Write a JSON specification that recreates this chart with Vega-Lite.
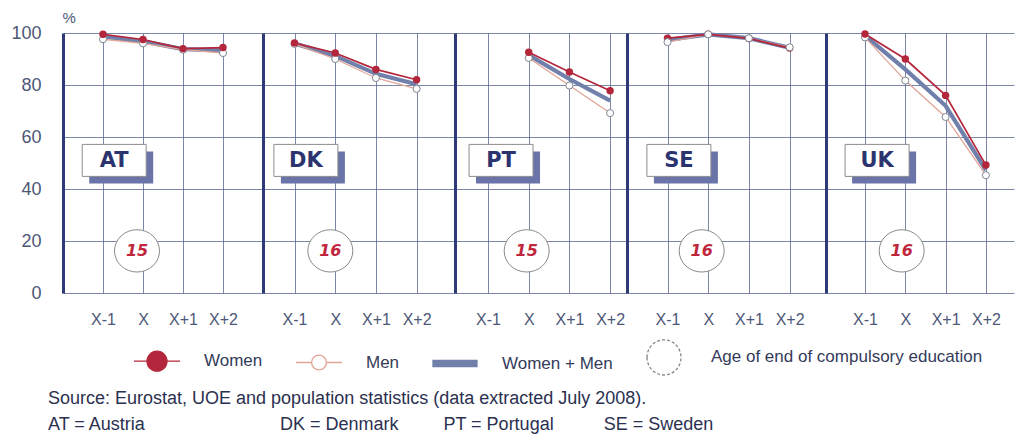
{
  "$schema": "https://vega.github.io/schema/vega-lite/v6.json",
  "background": "white",
  "padding": {"left": 10, "top": 10, "right": 4, "bottom": 4},
  "spacing": 0,
  "title": {
    "text": "Source: Eurostat, UOE and population statistics (data extracted July 2008).",
    "subtitle": "AT = Austria\u00a0\u00a0\u00a0\u00a0\u00a0\u00a0\u00a0\u00a0\u00a0\u00a0\u00a0\u00a0\u00a0\u00a0\u00a0\u00a0\u00a0\u00a0\u00a0\u00a0\u00a0\u00a0\u00a0\u00a0\u00a0\u00a0\u00a0DK = Denmark\u00a0\u00a0\u00a0\u00a0\u00a0\u00a0\u00a0\u00a0\u00a0PT = Portugal\u00a0\u00a0\u00a0\u00a0\u00a0\u00a0\u00a0\u00a0\u00a0\u00a0SE = Sweden",
    "orient": "bottom",
    "anchor": "start",
    "frame": "bounds",
    "dx": 37,
    "offset": 12,
    "font": "Liberation Sans",
    "fontSize": 18,
    "fontWeight": "normal",
    "color": "#2b3050",
    "subtitleFont": "Liberation Sans",
    "subtitleFontSize": 18,
    "subtitleColor": "#2b3050",
    "subtitlePadding": 8
  },
  "datasets": {
    "rates": [
      {"country": "AT", "series": "Women + Men", "t": -1, "value": 98.6},
      {"country": "AT", "series": "Women + Men", "t": 0, "value": 96.8},
      {"country": "AT", "series": "Women + Men", "t": 1, "value": 93.8},
      {"country": "AT", "series": "Women + Men", "t": 2, "value": 93.3},
      {"country": "AT", "series": "Men", "t": -1, "value": 97.6},
      {"country": "AT", "series": "Men", "t": 0, "value": 96.0},
      {"country": "AT", "series": "Men", "t": 1, "value": 93.6},
      {"country": "AT", "series": "Men", "t": 2, "value": 92.3},
      {"country": "AT", "series": "Women", "t": -1, "value": 99.5},
      {"country": "AT", "series": "Women", "t": 0, "value": 97.5},
      {"country": "AT", "series": "Women", "t": 1, "value": 94.0},
      {"country": "AT", "series": "Women", "t": 2, "value": 94.4},
      {"country": "DK", "series": "Women + Men", "t": -1, "value": 96.0},
      {"country": "DK", "series": "Women + Men", "t": 0, "value": 91.2},
      {"country": "DK", "series": "Women + Men", "t": 1, "value": 84.3},
      {"country": "DK", "series": "Women + Men", "t": 2, "value": 80.3},
      {"country": "DK", "series": "Men", "t": -1, "value": 95.8},
      {"country": "DK", "series": "Men", "t": 0, "value": 90.0},
      {"country": "DK", "series": "Men", "t": 1, "value": 82.7},
      {"country": "DK", "series": "Men", "t": 2, "value": 78.5},
      {"country": "DK", "series": "Women", "t": -1, "value": 96.2},
      {"country": "DK", "series": "Women", "t": 0, "value": 92.3},
      {"country": "DK", "series": "Women", "t": 1, "value": 86.0},
      {"country": "DK", "series": "Women", "t": 2, "value": 82.0},
      {"country": "PT", "series": "Women + Men", "t": 0, "value": 91.5},
      {"country": "PT", "series": "Women + Men", "t": 1, "value": 82.3},
      {"country": "PT", "series": "Women + Men", "t": 2, "value": 74.0},
      {"country": "PT", "series": "Men", "t": 0, "value": 90.4},
      {"country": "PT", "series": "Men", "t": 1, "value": 79.8},
      {"country": "PT", "series": "Men", "t": 2, "value": 69.2},
      {"country": "PT", "series": "Women", "t": 0, "value": 92.6},
      {"country": "PT", "series": "Women", "t": 1, "value": 85.0},
      {"country": "PT", "series": "Women", "t": 2, "value": 77.8},
      {"country": "SE", "series": "Women + Men", "t": -1, "value": 97.3},
      {"country": "SE", "series": "Women + Men", "t": 0, "value": 99.5},
      {"country": "SE", "series": "Women + Men", "t": 1, "value": 98.0},
      {"country": "SE", "series": "Women + Men", "t": 2, "value": 94.3},
      {"country": "SE", "series": "Men", "t": -1, "value": 96.5},
      {"country": "SE", "series": "Men", "t": 0, "value": 99.5},
      {"country": "SE", "series": "Men", "t": 1, "value": 98.0},
      {"country": "SE", "series": "Men", "t": 2, "value": 94.5},
      {"country": "SE", "series": "Women", "t": -1, "value": 98.0},
      {"country": "SE", "series": "Women", "t": 0, "value": 99.5},
      {"country": "SE", "series": "Women", "t": 1, "value": 97.9},
      {"country": "SE", "series": "Women", "t": 2, "value": 94.2},
      {"country": "UK", "series": "Women + Men", "t": -1, "value": 99.0},
      {"country": "UK", "series": "Women + Men", "t": 0, "value": 86.0},
      {"country": "UK", "series": "Women + Men", "t": 1, "value": 72.0},
      {"country": "UK", "series": "Women + Men", "t": 2, "value": 47.3},
      {"country": "UK", "series": "Men", "t": -1, "value": 98.3},
      {"country": "UK", "series": "Men", "t": 0, "value": 81.7},
      {"country": "UK", "series": "Men", "t": 1, "value": 67.7},
      {"country": "UK", "series": "Men", "t": 2, "value": 45.3},
      {"country": "UK", "series": "Women", "t": -1, "value": 99.6},
      {"country": "UK", "series": "Women", "t": 0, "value": 90.0},
      {"country": "UK", "series": "Women", "t": 1, "value": 76.0},
      {"country": "UK", "series": "Women", "t": 2, "value": 49.2}
    ]
  },
  "hconcat": [
    {
      "width": 200, "height": 260,
      "layer": [
        {"data": {"name": "rates"}, "transform": [{"filter": "datum.country === 'AT' && datum.series === 'Women + Men'"}], "mark": {"type": "line", "strokeWidth": 4.2},
         "encoding": {
           "x": {"field": "t", "type": "quantitative", "scale": {"domain": [-2, 3], "nice": false, "zero": false}, "axis": {"values": [-1, 0, 1, 2], "labelExpr": "datum.value === 0 ? 'X' : datum.value > 0 ? 'X+' + datum.value : 'X' + datum.value", "title": null}},
           "y": {"field": "value", "type": "quantitative", "scale": {"domain": [0, 100], "nice": false}, "axis": {"values": [0, 20, 40, 60, 80, 100], "title": "%", "titleAngle": 0, "titleAlign": "left", "titleBaseline": "alphabetic", "titleX": -1, "titleY": -11, "titleFontSize": 15, "titleFontWeight": "normal", "titleColor": "#4d5777"}},
           "color": {"field": "series", "type": "nominal",
           "scale": {"domain": ["Women", "Men", "Women + Men", "Age of end of compulsory education"], "range": ["#b3263b", "#e2a597", "#7080ab", "#858585"]},
           "legend": {
             "orient": "none", "legendX": 73, "legendY": 303, "direction": "horizontal", "columns": 4, "title": null,
             "symbolSize": 1600, "labelFont": "Liberation Sans", "labelFontSize": 17, "labelColor": "#343b5a", "labelOffset": 26, "columnPadding": 30, "labelLimit": 400,
             "encode": {"symbols": {"update": {
               "shape": {"signal": "datum.value === 'Women' ? 'M-1.15,0H-0.5M0.5,0H1.15M-0.5,0A0.5,0.5,0,1,1,0.5,0A0.5,0.5,0,1,1,-0.5,0Z' : datum.value === 'Men' ? 'M-1.15,0H-0.37M0.37,0H1.15M-0.37,0A0.37,0.37,0,1,1,0.37,0A0.37,0.37,0,1,1,-0.37,0Z' : datum.value === 'Women + Men' ? 'M-1.1,-0.16H1.1V0.16H-1.1Z' : 'M-0.85,0A0.85,0.88,0,1,1,0.85,0A0.85,0.88,0,1,1,-0.85,0Z'"},
               "fill": {"signal": "datum.value === 'Women' ? '#b3263b' : datum.value === 'Women + Men' ? '#7080ab' : '#ffffff'"},
               "stroke": {"signal": "datum.value === 'Women' ? '#b3263b' : datum.value === 'Men' ? '#b39590' : datum.value === 'Women + Men' ? 'transparent' : '#777777'"},
               "strokeWidth": {"value": 1.3},
               "strokeDash": {"signal": "datum.value === 'Age of end of compulsory education' ? [3, 2] : []"},
               "opacity": {"value": 1},
               "size": {"value": 1600}
             }}}
           }}}},
        {"data": {"name": "rates"}, "transform": [{"filter": "datum.country === 'AT' && datum.series === 'Men'"}], "mark": {"type": "line", "strokeWidth": 1.3}, "encoding": {"x": {"field": "t", "type": "quantitative"}, "y": {"field": "value", "type": "quantitative"}, "color": {"field": "series", "type": "nominal", "scale": {"domain": ["Women", "Men", "Women + Men", "Age of end of compulsory education"], "range": ["#b3263b", "#e2a597", "#7080ab", "#858585"]}}}},
        {"data": {"name": "rates"}, "transform": [{"filter": "datum.country === 'AT' && datum.series === 'Women'"}], "mark": {"type": "line", "strokeWidth": 1.7}, "encoding": {"x": {"field": "t", "type": "quantitative"}, "y": {"field": "value", "type": "quantitative"}, "color": {"field": "series", "type": "nominal", "scale": {"domain": ["Women", "Men", "Women + Men", "Age of end of compulsory education"], "range": ["#b3263b", "#e2a597", "#7080ab", "#858585"]}}}},
        {"data": {"name": "rates"}, "transform": [{"filter": "datum.country === 'AT' && datum.series === 'Men'"}], "mark": {"type": "point", "filled": true, "fill": "#ffffff", "stroke": "#7f8593", "strokeWidth": 1, "size": 50, "opacity": 1}, "encoding": {"x": {"field": "t", "type": "quantitative"}, "y": {"field": "value", "type": "quantitative"}}},
        {"data": {"name": "rates"}, "transform": [{"filter": "datum.country === 'AT' && datum.series === 'Women'"}], "mark": {"type": "circle", "color": "#b3263b", "size": 55, "opacity": 1}, "encoding": {"x": {"field": "t", "type": "quantitative"}, "y": {"field": "value", "type": "quantitative"}}},
        {"data": {"values": [{"country": "AT", "age": 15}]}, "mark": {"type": "point", "shape": "M-1,-0.5H1V0.5H-1Z", "filled": true, "fill": "#6b74a8", "strokeWidth": 0, "size": 4096, "xOffset": 7, "yOffset": 7, "opacity": 1}, "encoding": {"x": {"datum": -0.72, "type": "quantitative"}, "y": {"datum": 51, "type": "quantitative"}}},
        {"data": {"values": [{"country": "AT", "age": 15}]}, "mark": {"type": "point", "shape": "M-1,-0.5H1V0.5H-1Z", "filled": true, "fill": "#ffffff", "stroke": "#8c8c8c", "strokeWidth": 1, "size": 4096, "opacity": 1}, "encoding": {"x": {"datum": -0.72, "type": "quantitative"}, "y": {"datum": 51, "type": "quantitative"}}},
        {"data": {"values": [{"country": "AT", "age": 15}]}, "mark": {"type": "text", "font": "DejaVu Sans", "fontSize": 21, "fontWeight": "bold", "color": "#2c3470", "dy": 1}, "encoding": {"x": {"datum": -0.72, "type": "quantitative"}, "y": {"datum": 51, "type": "quantitative"}, "text": {"field": "country", "type": "nominal"}}},
        {"data": {"values": [{"country": "AT", "age": 15}]}, "mark": {"type": "point", "shape": "M-1,0A1,0.94,0,1,1,1,0A1,0.94,0,1,1,-1,0Z", "filled": true, "fill": "#ffffff", "stroke": "#8a8a8a", "strokeWidth": 1, "size": 2025, "opacity": 1}, "encoding": {"x": {"datum": -0.15, "type": "quantitative"}, "y": {"datum": 16.2, "type": "quantitative"}}},
        {"data": {"values": [{"country": "AT", "age": 15}]}, "mark": {"type": "text", "font": "DejaVu Sans", "fontSize": 16, "fontWeight": "bold", "fontStyle": "italic", "color": "#c0263c"}, "encoding": {"x": {"datum": -0.15, "type": "quantitative"}, "y": {"datum": 16.2, "type": "quantitative"}, "text": {"field": "age", "type": "nominal"}}}
      ]
    },
    {
      "width": 192, "height": 260,
      "layer": [
        {"data": {"name": "rates"}, "transform": [{"filter": "datum.country === 'DK' && datum.series === 'Women + Men'"}], "mark": {"type": "line", "strokeWidth": 4.2}, "encoding": {
          "x": {"field": "t", "type": "quantitative", "scale": {"domain": [-1.774, 2.943], "nice": false, "zero": false}, "axis": {"values": [-1, 0, 1, 2], "labelExpr": "datum.value === 0 ? 'X' : datum.value > 0 ? 'X+' + datum.value : 'X' + datum.value", "title": null}},
          "y": {"field": "value", "type": "quantitative", "scale": {"domain": [0, 100], "nice": false}, "axis": {"values": [0, 20, 40, 60, 80, 100], "labels": false, "title": null}},
          "color": {"field": "series", "type": "nominal", "scale": {"domain": ["Women", "Men", "Women + Men", "Age of end of compulsory education"], "range": ["#b3263b", "#e2a597", "#7080ab", "#858585"]}}}},
        {"data": {"name": "rates"}, "transform": [{"filter": "datum.country === 'DK' && datum.series === 'Men'"}], "mark": {"type": "line", "strokeWidth": 1.3}, "encoding": {"x": {"field": "t", "type": "quantitative"}, "y": {"field": "value", "type": "quantitative"}, "color": {"field": "series", "type": "nominal", "scale": {"domain": ["Women", "Men", "Women + Men", "Age of end of compulsory education"], "range": ["#b3263b", "#e2a597", "#7080ab", "#858585"]}}}},
        {"data": {"name": "rates"}, "transform": [{"filter": "datum.country === 'DK' && datum.series === 'Women'"}], "mark": {"type": "line", "strokeWidth": 1.7}, "encoding": {"x": {"field": "t", "type": "quantitative"}, "y": {"field": "value", "type": "quantitative"}, "color": {"field": "series", "type": "nominal", "scale": {"domain": ["Women", "Men", "Women + Men", "Age of end of compulsory education"], "range": ["#b3263b", "#e2a597", "#7080ab", "#858585"]}}}},
        {"data": {"name": "rates"}, "transform": [{"filter": "datum.country === 'DK' && datum.series === 'Men'"}], "mark": {"type": "point", "filled": true, "fill": "#ffffff", "stroke": "#7f8593", "strokeWidth": 1, "size": 50, "opacity": 1}, "encoding": {"x": {"field": "t", "type": "quantitative"}, "y": {"field": "value", "type": "quantitative"}}},
        {"data": {"name": "rates"}, "transform": [{"filter": "datum.country === 'DK' && datum.series === 'Women'"}], "mark": {"type": "circle", "color": "#b3263b", "size": 55, "opacity": 1}, "encoding": {"x": {"field": "t", "type": "quantitative"}, "y": {"field": "value", "type": "quantitative"}}},
        {"data": {"values": [{"country": "DK", "age": 16}]}, "mark": {"type": "point", "shape": "M-1,-0.5H1V0.5H-1Z", "filled": true, "fill": "#6b74a8", "strokeWidth": 0, "size": 4096, "xOffset": 7, "yOffset": 7, "opacity": 1}, "encoding": {"x": {"datum": -0.72, "type": "quantitative"}, "y": {"datum": 51, "type": "quantitative"}}},
        {"data": {"values": [{"country": "DK", "age": 16}]}, "mark": {"type": "point", "shape": "M-1,-0.5H1V0.5H-1Z", "filled": true, "fill": "#ffffff", "stroke": "#8c8c8c", "strokeWidth": 1, "size": 4096, "opacity": 1}, "encoding": {"x": {"datum": -0.72, "type": "quantitative"}, "y": {"datum": 51, "type": "quantitative"}}},
        {"data": {"values": [{"country": "DK", "age": 16}]}, "mark": {"type": "text", "font": "DejaVu Sans", "fontSize": 21, "fontWeight": "bold", "color": "#2c3470", "dy": 1}, "encoding": {"x": {"datum": -0.72, "type": "quantitative"}, "y": {"datum": 51, "type": "quantitative"}, "text": {"field": "country", "type": "nominal"}}},
        {"data": {"values": [{"country": "DK", "age": 16}]}, "mark": {"type": "point", "shape": "M-1,0A1,0.94,0,1,1,1,0A1,0.94,0,1,1,-1,0Z", "filled": true, "fill": "#ffffff", "stroke": "#8a8a8a", "strokeWidth": 1, "size": 2025, "opacity": 1}, "encoding": {"x": {"datum": -0.12, "type": "quantitative"}, "y": {"datum": 16.2, "type": "quantitative"}}},
        {"data": {"values": [{"country": "DK", "age": 16}]}, "mark": {"type": "text", "font": "DejaVu Sans", "fontSize": 16, "fontWeight": "bold", "fontStyle": "italic", "color": "#c0263c"}, "encoding": {"x": {"datum": -0.12, "type": "quantitative"}, "y": {"datum": 16.2, "type": "quantitative"}, "text": {"field": "age", "type": "nominal"}}}
      ]
    },
    {
      "width": 172, "height": 260,
      "layer": [
        {"data": {"name": "rates"}, "transform": [{"filter": "datum.country === 'PT' && datum.series === 'Women + Men'"}], "mark": {"type": "line", "strokeWidth": 4.2}, "encoding": {
          "x": {"field": "t", "type": "quantitative", "scale": {"domain": [-1.811, 2.415], "nice": false, "zero": false}, "axis": {"values": [-1, 0, 1, 2], "labelExpr": "datum.value === 0 ? 'X' : datum.value > 0 ? 'X+' + datum.value : 'X' + datum.value", "title": null}},
          "y": {"field": "value", "type": "quantitative", "scale": {"domain": [0, 100], "nice": false}, "axis": {"values": [0, 20, 40, 60, 80, 100], "labels": false, "title": null}},
          "color": {"field": "series", "type": "nominal", "scale": {"domain": ["Women", "Men", "Women + Men", "Age of end of compulsory education"], "range": ["#b3263b", "#e2a597", "#7080ab", "#858585"]}}}},
        {"data": {"name": "rates"}, "transform": [{"filter": "datum.country === 'PT' && datum.series === 'Men'"}], "mark": {"type": "line", "strokeWidth": 1.3}, "encoding": {"x": {"field": "t", "type": "quantitative"}, "y": {"field": "value", "type": "quantitative"}, "color": {"field": "series", "type": "nominal", "scale": {"domain": ["Women", "Men", "Women + Men", "Age of end of compulsory education"], "range": ["#b3263b", "#e2a597", "#7080ab", "#858585"]}}}},
        {"data": {"name": "rates"}, "transform": [{"filter": "datum.country === 'PT' && datum.series === 'Women'"}], "mark": {"type": "line", "strokeWidth": 1.7}, "encoding": {"x": {"field": "t", "type": "quantitative"}, "y": {"field": "value", "type": "quantitative"}, "color": {"field": "series", "type": "nominal", "scale": {"domain": ["Women", "Men", "Women + Men", "Age of end of compulsory education"], "range": ["#b3263b", "#e2a597", "#7080ab", "#858585"]}}}},
        {"data": {"name": "rates"}, "transform": [{"filter": "datum.country === 'PT' && datum.series === 'Men'"}], "mark": {"type": "point", "filled": true, "fill": "#ffffff", "stroke": "#7f8593", "strokeWidth": 1, "size": 50, "opacity": 1}, "encoding": {"x": {"field": "t", "type": "quantitative"}, "y": {"field": "value", "type": "quantitative"}}},
        {"data": {"name": "rates"}, "transform": [{"filter": "datum.country === 'PT' && datum.series === 'Women'"}], "mark": {"type": "circle", "color": "#b3263b", "size": 55, "opacity": 1}, "encoding": {"x": {"field": "t", "type": "quantitative"}, "y": {"field": "value", "type": "quantitative"}}},
        {"data": {"values": [{"country": "PT", "age": 15}]}, "mark": {"type": "point", "shape": "M-1,-0.5H1V0.5H-1Z", "filled": true, "fill": "#6b74a8", "strokeWidth": 0, "size": 4096, "xOffset": 7, "yOffset": 7, "opacity": 1}, "encoding": {"x": {"datum": -0.68, "type": "quantitative"}, "y": {"datum": 51, "type": "quantitative"}}},
        {"data": {"values": [{"country": "PT", "age": 15}]}, "mark": {"type": "point", "shape": "M-1,-0.5H1V0.5H-1Z", "filled": true, "fill": "#ffffff", "stroke": "#8c8c8c", "strokeWidth": 1, "size": 4096, "opacity": 1}, "encoding": {"x": {"datum": -0.68, "type": "quantitative"}, "y": {"datum": 51, "type": "quantitative"}}},
        {"data": {"values": [{"country": "PT", "age": 15}]}, "mark": {"type": "text", "font": "DejaVu Sans", "fontSize": 21, "fontWeight": "bold", "color": "#2c3470", "dy": 1}, "encoding": {"x": {"datum": -0.68, "type": "quantitative"}, "y": {"datum": 51, "type": "quantitative"}, "text": {"field": "country", "type": "nominal"}}},
        {"data": {"values": [{"country": "PT", "age": 15}]}, "mark": {"type": "point", "shape": "M-1,0A1,0.94,0,1,1,1,0A1,0.94,0,1,1,-1,0Z", "filled": true, "fill": "#ffffff", "stroke": "#8a8a8a", "strokeWidth": 1, "size": 2025, "opacity": 1}, "encoding": {"x": {"datum": -0.05, "type": "quantitative"}, "y": {"datum": 16.2, "type": "quantitative"}}},
        {"data": {"values": [{"country": "PT", "age": 15}]}, "mark": {"type": "text", "font": "DejaVu Sans", "fontSize": 16, "fontWeight": "bold", "fontStyle": "italic", "color": "#c0263c"}, "encoding": {"x": {"datum": -0.05, "type": "quantitative"}, "y": {"datum": 16.2, "type": "quantitative"}, "text": {"field": "age", "type": "nominal"}}}
      ]
    },
    {
      "width": 199, "height": 260,
      "layer": [
        {"data": {"name": "rates"}, "transform": [{"filter": "datum.country === 'SE' && datum.series === 'Women + Men'"}], "mark": {"type": "line", "strokeWidth": 4.2}, "encoding": {
          "x": {"field": "t", "type": "quantitative", "scale": {"domain": [-1.995, 2.894], "nice": false, "zero": false}, "axis": {"values": [-1, 0, 1, 2], "labelExpr": "datum.value === 0 ? 'X' : datum.value > 0 ? 'X+' + datum.value : 'X' + datum.value", "title": null}},
          "y": {"field": "value", "type": "quantitative", "scale": {"domain": [0, 100], "nice": false}, "axis": {"values": [0, 20, 40, 60, 80, 100], "labels": false, "title": null}},
          "color": {"field": "series", "type": "nominal", "scale": {"domain": ["Women", "Men", "Women + Men", "Age of end of compulsory education"], "range": ["#b3263b", "#e2a597", "#7080ab", "#858585"]}}}},
        {"data": {"name": "rates"}, "transform": [{"filter": "datum.country === 'SE' && datum.series === 'Men'"}], "mark": {"type": "line", "strokeWidth": 1.3}, "encoding": {"x": {"field": "t", "type": "quantitative"}, "y": {"field": "value", "type": "quantitative"}, "color": {"field": "series", "type": "nominal", "scale": {"domain": ["Women", "Men", "Women + Men", "Age of end of compulsory education"], "range": ["#b3263b", "#e2a597", "#7080ab", "#858585"]}}}},
        {"data": {"name": "rates"}, "transform": [{"filter": "datum.country === 'SE' && datum.series === 'Women'"}], "mark": {"type": "line", "strokeWidth": 1.7}, "encoding": {"x": {"field": "t", "type": "quantitative"}, "y": {"field": "value", "type": "quantitative"}, "color": {"field": "series", "type": "nominal", "scale": {"domain": ["Women", "Men", "Women + Men", "Age of end of compulsory education"], "range": ["#b3263b", "#e2a597", "#7080ab", "#858585"]}}}},
        {"data": {"name": "rates"}, "transform": [{"filter": "datum.country === 'SE' && datum.series === 'Women'"}], "mark": {"type": "circle", "color": "#b3263b", "size": 55, "opacity": 1}, "encoding": {"x": {"field": "t", "type": "quantitative"}, "y": {"field": "value", "type": "quantitative"}}},
        {"data": {"name": "rates"}, "transform": [{"filter": "datum.country === 'SE' && datum.series === 'Men'"}], "mark": {"type": "point", "filled": true, "fill": "#ffffff", "stroke": "#7f8593", "strokeWidth": 1, "size": 50, "opacity": 1}, "encoding": {"x": {"field": "t", "type": "quantitative"}, "y": {"field": "value", "type": "quantitative"}}},
        {"data": {"values": [{"country": "SE", "age": 16}]}, "mark": {"type": "point", "shape": "M-1,-0.5H1V0.5H-1Z", "filled": true, "fill": "#6b74a8", "strokeWidth": 0, "size": 4096, "xOffset": 7, "yOffset": 7, "opacity": 1}, "encoding": {"x": {"datum": -0.72, "type": "quantitative"}, "y": {"datum": 51, "type": "quantitative"}}},
        {"data": {"values": [{"country": "SE", "age": 16}]}, "mark": {"type": "point", "shape": "M-1,-0.5H1V0.5H-1Z", "filled": true, "fill": "#ffffff", "stroke": "#8c8c8c", "strokeWidth": 1, "size": 4096, "opacity": 1}, "encoding": {"x": {"datum": -0.72, "type": "quantitative"}, "y": {"datum": 51, "type": "quantitative"}}},
        {"data": {"values": [{"country": "SE", "age": 16}]}, "mark": {"type": "text", "font": "DejaVu Sans", "fontSize": 21, "fontWeight": "bold", "color": "#2c3470", "dy": 1}, "encoding": {"x": {"datum": -0.72, "type": "quantitative"}, "y": {"datum": 51, "type": "quantitative"}, "text": {"field": "country", "type": "nominal"}}},
        {"data": {"values": [{"country": "SE", "age": 16}]}, "mark": {"type": "point", "shape": "M-1,0A1,0.94,0,1,1,1,0A1,0.94,0,1,1,-1,0Z", "filled": true, "fill": "#ffffff", "stroke": "#8a8a8a", "strokeWidth": 1, "size": 2025, "opacity": 1}, "encoding": {"x": {"datum": -0.16, "type": "quantitative"}, "y": {"datum": 16.2, "type": "quantitative"}}},
        {"data": {"values": [{"country": "SE", "age": 16}]}, "mark": {"type": "text", "font": "DejaVu Sans", "fontSize": 16, "fontWeight": "bold", "fontStyle": "italic", "color": "#c0263c"}, "encoding": {"x": {"datum": -0.16, "type": "quantitative"}, "y": {"datum": 16.2, "type": "quantitative"}, "text": {"field": "age", "type": "nominal"}}}
      ]
    },
    {
      "width": 188, "height": 260,
      "layer": [
        {"data": {"name": "rates"}, "transform": [{"filter": "datum.country === 'UK' && datum.series === 'Women + Men'"}], "mark": {"type": "line", "strokeWidth": 4.2}, "encoding": {
          "x": {"field": "t", "type": "quantitative", "scale": {"domain": [-1.968, 2.697], "nice": false, "zero": false}, "axis": {"values": [-1, 0, 1, 2], "labelExpr": "datum.value === 0 ? 'X' : datum.value > 0 ? 'X+' + datum.value : 'X' + datum.value", "title": null}},
          "y": {"field": "value", "type": "quantitative", "scale": {"domain": [0, 100], "nice": false}, "axis": {"values": [0, 20, 40, 60, 80, 100], "labels": false, "title": null}},
          "color": {"field": "series", "type": "nominal", "scale": {"domain": ["Women", "Men", "Women + Men", "Age of end of compulsory education"], "range": ["#b3263b", "#e2a597", "#7080ab", "#858585"]}}}},
        {"data": {"name": "rates"}, "transform": [{"filter": "datum.country === 'UK' && datum.series === 'Men'"}], "mark": {"type": "line", "strokeWidth": 1.3}, "encoding": {"x": {"field": "t", "type": "quantitative"}, "y": {"field": "value", "type": "quantitative"}, "color": {"field": "series", "type": "nominal", "scale": {"domain": ["Women", "Men", "Women + Men", "Age of end of compulsory education"], "range": ["#b3263b", "#e2a597", "#7080ab", "#858585"]}}}},
        {"data": {"name": "rates"}, "transform": [{"filter": "datum.country === 'UK' && datum.series === 'Women'"}], "mark": {"type": "line", "strokeWidth": 1.7}, "encoding": {"x": {"field": "t", "type": "quantitative"}, "y": {"field": "value", "type": "quantitative"}, "color": {"field": "series", "type": "nominal", "scale": {"domain": ["Women", "Men", "Women + Men", "Age of end of compulsory education"], "range": ["#b3263b", "#e2a597", "#7080ab", "#858585"]}}}},
        {"data": {"name": "rates"}, "transform": [{"filter": "datum.country === 'UK' && datum.series === 'Men'"}], "mark": {"type": "point", "filled": true, "fill": "#ffffff", "stroke": "#7f8593", "strokeWidth": 1, "size": 50, "opacity": 1}, "encoding": {"x": {"field": "t", "type": "quantitative"}, "y": {"field": "value", "type": "quantitative"}}},
        {"data": {"name": "rates"}, "transform": [{"filter": "datum.country === 'UK' && datum.series === 'Women'"}], "mark": {"type": "circle", "color": "#b3263b", "size": 55, "opacity": 1}, "encoding": {"x": {"field": "t", "type": "quantitative"}, "y": {"field": "value", "type": "quantitative"}}},
        {"data": {"values": [{"country": "UK", "age": 16}]}, "mark": {"type": "point", "shape": "M-1,-0.5H1V0.5H-1Z", "filled": true, "fill": "#6b74a8", "strokeWidth": 0, "size": 4096, "xOffset": 7, "yOffset": 7, "opacity": 1}, "encoding": {"x": {"datum": -0.7, "type": "quantitative"}, "y": {"datum": 51, "type": "quantitative"}}},
        {"data": {"values": [{"country": "UK", "age": 16}]}, "mark": {"type": "point", "shape": "M-1,-0.5H1V0.5H-1Z", "filled": true, "fill": "#ffffff", "stroke": "#8c8c8c", "strokeWidth": 1, "size": 4096, "opacity": 1}, "encoding": {"x": {"datum": -0.7, "type": "quantitative"}, "y": {"datum": 51, "type": "quantitative"}}},
        {"data": {"values": [{"country": "UK", "age": 16}]}, "mark": {"type": "text", "font": "DejaVu Sans", "fontSize": 21, "fontWeight": "bold", "color": "#2c3470", "dy": 1}, "encoding": {"x": {"datum": -0.7, "type": "quantitative"}, "y": {"datum": 51, "type": "quantitative"}, "text": {"field": "country", "type": "nominal"}}},
        {"data": {"values": [{"country": "UK", "age": 16}]}, "mark": {"type": "point", "shape": "M-1,0A1,0.94,0,1,1,1,0A1,0.94,0,1,1,-1,0Z", "filled": true, "fill": "#ffffff", "stroke": "#8a8a8a", "strokeWidth": 1, "size": 2025, "opacity": 1}, "encoding": {"x": {"datum": -0.09, "type": "quantitative"}, "y": {"datum": 16.2, "type": "quantitative"}}},
        {"data": {"values": [{"country": "UK", "age": 16}]}, "mark": {"type": "text", "font": "DejaVu Sans", "fontSize": 16, "fontWeight": "bold", "fontStyle": "italic", "color": "#c0263c"}, "encoding": {"x": {"datum": -0.09, "type": "quantitative"}, "y": {"datum": 16.2, "type": "quantitative"}, "text": {"field": "age", "type": "nominal"}}}
      ]
    }
  ],
  "config": {
    "view": {"stroke": null},
    "axis": {
      "gridColor": "#5b6890", "gridWidth": 1, "gridOpacity": 0.8,
      "ticks": false, "domain": false,
      "labelFont": "Liberation Sans", "labelColor": "#4d5777",
      "titleFont": "Liberation Sans"
    },
    "axisX": {"labelFontSize": 16, "labelPadding": 18},
    "axisY": {"domain": true, "domainColor": "#2e3a78", "domainWidth": 3, "labelFontSize": 18, "labelPadding": 22}
  }
}
